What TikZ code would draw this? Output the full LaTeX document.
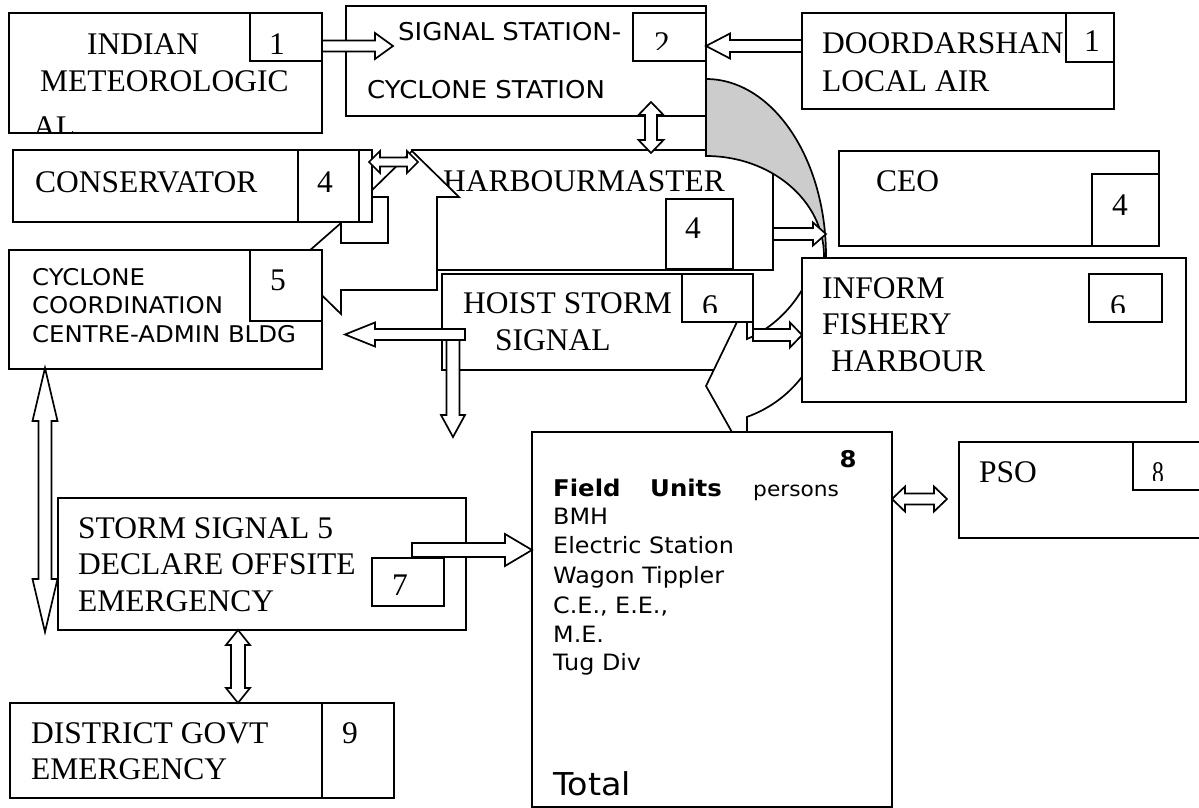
\documentclass[tikz,border=0pt]{standalone}
\usepackage{fontspec}
\setmainfont{Liberation Serif}
\newfontfamily\dv[FakeStretch=1.06]{DejaVu Sans}
\usetikzlibrary{calc}
\tikzset{
 box/.style={draw, fill=white, line width=1.7pt, inner sep=0pt, outer sep=0pt},
 arr/.style={draw, fill=white, line width=1.7pt, line join=miter},
 sr/.style={inner sep=0pt, anchor=base west, font=\fontsize{31.5}{36}\selectfont},
 num/.style={inner sep=0pt, anchor=base, font=\fontsize{31.5}{36}\selectfont},
 ssa/.style={inner sep=0pt, anchor=base west, font=\dv\fontsize{24.5}{28}\selectfont},
 ssb/.style={inner sep=0pt, anchor=base west, font=\dv\fontsize{23}{28}\selectfont},
 ssc/.style={inner sep=0pt, anchor=base west, font=\dv\fontsize{22.5}{27}\selectfont},
}
\newcommand\bx[5]{\node[box,anchor=north west,minimum width={(#4-#2)*1pt},minimum height={(#5-#3)*1pt}] (#1) at (#2,#3) {};}
\newcommand\sarrow[5]{%
 \draw[arr] let \p1=(#1),\p2=(#2),\n1={atan2(\y2-\y1,\x2-\x1)},\n2={veclen(\x2-\x1,\y2-\y1)} in
 [shift={(\p1)},rotate=\n1]
 (0pt,#3pt) -- ({\n2*1pt-#5pt},#3pt) -- ({\n2*1pt-#5pt},#4pt) -- ({\n2*1pt},0pt) -- ({\n2*1pt-#5pt},-#4pt) -- ({\n2*1pt-#5pt},-#3pt) -- (0pt,-#3pt) -- cycle;}
\newcommand\darrow[5]{%
 \draw[arr] let \p1=(#1),\p2=(#2),\n1={atan2(\y2-\y1,\x2-\x1)},\n2={veclen(\x2-\x1,\y2-\y1)} in
 [shift={(\p1)},rotate=\n1]
 (0pt,0pt) -- (#5pt,#4pt) -- (#5pt,#3pt) -- ({\n2*1pt-#5pt},#3pt) -- ({\n2*1pt-#5pt},#4pt) -- ({\n2*1pt},0pt) -- ({\n2*1pt-#5pt},-#4pt) -- ({\n2*1pt-#5pt},-#3pt) -- (#5pt,-#3pt) -- (#5pt,-#4pt) -- cycle;}
\begin{document}
\begin{tikzpicture}[x=1pt,y=-1pt]
\useasboundingbox (0,0) rectangle (1199,808);
\fill[white] (0,0) rectangle (1199,808);
% INDIAN METEOROLOGICAL
\bx{indian}{9}{13}{322}{133}
\node[sr] (i1) at (87,55) {INDIAN};
\node[sr] (i2) at (40,91) {METEOROLOGIC};
\begin{scope}
\clip (indian.north west) rectangle (indian.south east);
\node[sr] (i3) at (33,137.5) {AL.};
\end{scope}
\bx{indianN}{250}{13}{322}{61}
\node[num] (i4) at (277,55) {1};
% SIGNAL STATION
\bx{signal}{346}{6}{706}{116}
\node[ssa] (s1) at (398,41) {SIGNAL STATION-};
\node[ssa] (s2) at (367,99) {CYCLONE STATION};
\bx{signalN}{633}{13}{706}{61}
\begin{scope}
\clip (633,13) rectangle (706,50);
\node[num] (s3) at (662,54) {2};
\end{scope}
% DOORDARSHAN
\bx{door}{802}{13}{1114}{109}
\node[sr] (d1) at (822,53) {DOORDARSHAN};
\node[sr] (d2) at (822,91) {LOCAL AIR};
\bx{doorN}{1066}{13}{1114}{62}
\node[num] (d3) at (1092,52) {1};
\sarrow{$(indian.north east)+(0,33)$}{$(signal.north west)+(47,40)$}{5.5}{13}{18}
\sarrow{$(door.north west)+(0,33)$}{$(signal.north east)+(0,40)$}{6}{12.5}{24}
% HARBOURMASTER
\bx{harbour}{412}{150}{773}{270}
\node[sr] (h1) at (443,191) {HARBOURMASTER};
\bx{harbourN}{666}{199}{733}{269}
\node[num] (h2) at (693,238) {4};
\darrow{$(signal.south west)+(305,-14)$}{$(harbour.north west)+(239,3)$}{6}{12.5}{13}
% big bent double arrow (cyclone centre <-> harbourmaster)
\draw[arr] (292,266) -- (341,223) -- (341,243) -- (388,243) -- (388,197) -- (365,197) -- (412,151) -- (459,197) -- (437,197) -- (437,290) -- (341,290) -- (341,314) -- cycle;
% CONSERVATOR
\bx{cons}{13}{150}{372}{222}
\node[sr] (c1) at (35,192) {CONSERVATOR};
\bx{consN}{298}{150}{359}{222}
\node[num] (c2) at (325,192) {4};
\darrow{$(cons.north east)+(-3,12)$}{$(harbour.north west)+(6,12)$}{4.5}{11}{11}
% CYCLONE COORDINATION
\bx{cyc}{9}{250}{322}{369}
\node[ssb] (y1) at (32,285) {CYCLONE};
\node[ssb] (y2) at (32,313) {COORDINATION};
\node[ssb] (y3) at (32,342) {CENTRE-ADMIN BLDG};
\bx{cycN}{250}{250}{322}{321}
\node[num] (y4) at (278,290) {5};
% HOIST STORM SIGNAL
\bx{hoist}{442}{274}{753}{370}
\node[sr] (o1) at (463,313) {HOIST STORM};
\node[sr] (o2) at (495,350) {SIGNAL};
\sarrow{$(hoist.north west)+(23,60.5)$}{$(cyc.north east)+(23,84.5)$}{5.5}{12}{30}
\sarrow{$(hoist.north west)+(11,66)$}{$(hoist.south west)+(11,67)$}{6.5}{12}{22}
% curved arrow
\draw[line width=1.7pt, fill=black!20] (706,79) arc[start angle=-90, end angle=0, x radius=120, y radius=177] -- (824,256) arc[start angle=0, end angle=-90, x radius=118, y radius=100] -- cycle;
\draw[arr] (826,256) -- (826,306) arc[start angle=0, end angle=70, x radius=120, y radius=118] -- (747,450) -- (742,450) -- (706,386) -- (737,322) -- (747,322) -- (747,339) arc[start angle=69.3, end angle=21, x radius=116, y radius=131] -- cycle;
\bx{hoistN}{682}{274}{753}{322}
\begin{scope}
\clip (682,274) rectangle (753,312);
\node[num] (o3) at (710,316) {6};
\end{scope}
% CEO
\bx{ceo}{839}{151}{1159}{246}
\node[sr] (e1) at (876,191) {CEO};
\bx{ceoN}{1092}{174}{1159}{246}
\node[num] (e2) at (1120,215) {4};
\sarrow{$(harbour.south east)+(0,-36)$}{$(ceo.south west)+(-13,-12)$}{6}{11.5}{13}
% INFORM FISHERY HARBOUR
\bx{inform}{802}{258}{1186}{402}
\node[sr] (f1) at (822,298) {INFORM};
\node[sr] (f2) at (822,334) {FISHERY};
\node[sr] (f3) at (831,371) {HARBOUR};
\bx{informN}{1089}{274}{1162}{322}
\begin{scope}
\clip (1089,274) rectangle (1162,312);
\node[num] (f4) at (1118,316) {6};
\end{scope}
\sarrow{$(hoist.north east)+(0,61)$}{$(inform.north west)+(0,77)$}{6}{12.5}{12}
% FIELD UNITS
\bx{field}{532}{432}{892}{807}
\node[inner sep=0pt, anchor=base, font=\dv\bfseries\fontsize{23}{27}\selectfont] (u0) at (848,467) {8};
\node[ssc, font=\dv\bfseries\fontsize{23}{27}\selectfont] (u1) at (553,496) {Field};
\node[ssc, font=\dv\bfseries\fontsize{23}{27}\selectfont] (u2) at (650,496) {Units};
\node[ssc, font=\dv\fontsize{20.5}{25}\selectfont] (u3) at (753,496) {persons};
\node[ssc] (u4) at (553,524) {BMH};
\node[ssc] (u5) at (553,553) {Electric Station};
\node[ssc] (u6) at (553,583) {Wagon Tippler};
\node[ssc] (u7) at (553,613) {C.E., E.E.,};
\node[ssc] (u8) at (553,642) {M.E.};
\node[ssc] (u9) at (553,670) {Tug Div};
\node[ssc, font=\dv\fontsize{31.5}{34}\selectfont] (u10) at (553,795) {Total};
% PSO
\bx{pso}{959}{442}{1201}{538}
\node[sr] (p1) at (979,482) {PSO};
\bx{psoN}{1133}{442}{1201}{490}
\begin{scope}
\clip (1133,442) rectangle (1201,480);
\node[num, xscale=0.75] (p2) at (1158,483) {8};
\end{scope}
\darrow{$(field.north east)+(0,67)$}{$(pso.north west)+(-12,57)$}{5.5}{12.5}{13}
% STORM SIGNAL 5
\bx{storm}{58}{498}{466}{630}
\node[sr] (t1) at (78,538) {STORM SIGNAL 5};
\node[sr] (t2) at (78,574) {DECLARE OFFSITE};
\node[sr] (t3) at (78,611) {EMERGENCY};
\bx{seven}{372}{558}{444}{606}
\node[num] (t4) at (400,595) {7};
\sarrow{$(seven.north west)+(40,-8)$}{$(field.north west)+(0,118)$}{7}{16}{27}
% DISTRICT GOVT
\bx{dist}{10}{703}{394}{798}
\node[sr] (g1) at (31,743) {DISTRICT GOVT};
\node[sr] (g2) at (31,779) {EMERGENCY};
\bx{distN}{322}{703}{394}{798}
\node[num] (g3) at (350,743) {9};
\darrow{$(storm.south west)+(180,0)$}{$(dist.north west)+(228,0)$}{7}{12}{15}
\darrow{$(cyc.south west)+(36,-1)$}{$(storm.south west)+(-13,2)$}{6.5}{12.5}{53}
\end{tikzpicture}
\end{document}
